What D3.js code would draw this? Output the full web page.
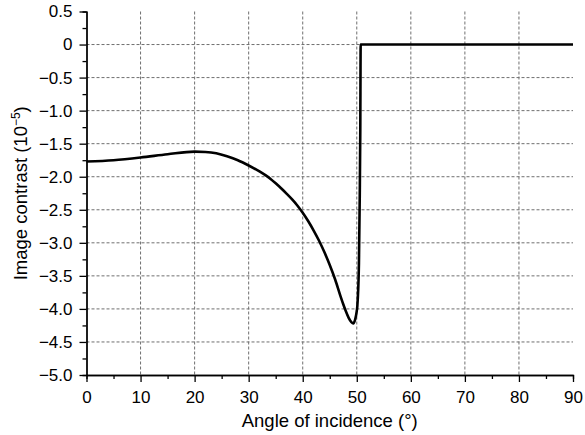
<!DOCTYPE html>
<html lang="en">
<head>
<meta charset="UTF-8">
<title>Image contrast vs angle of incidence</title>
<script src="https://d3js.org/d3.v7.min.js"></script>
<style>
  html, body { margin: 0; padding: 0; background: #fff; }
  svg { display: block; font-family: "Liberation Sans", Arial, sans-serif; }
  .grid line { stroke: #6f6f6f; stroke-width: 1; stroke-dasharray: 3,2; }
  .axis path, .axis line { stroke: #000; stroke-width: 1.3; }
  .axis text { font-size: 17px; fill: #000; }
  .label { font-size: 18.5px; fill: #000; }
  .curve { fill: none; stroke: #000; stroke-width: 2.6; stroke-linejoin: round; }
</style>
</head>
<body>
<svg width="585" height="435"></svg>

<script>
// angle of incidence (deg) and image contrast (1e-5)
const angles = [0, 5, 10, 15, 20, 22, 24, 26, 28, 30, 32, 34, 35, 36, 37, 38, 39, 40, 41, 42, 43, 44, 45, 46, 47, 47.5,
                48, 48.5, 49, 49.35, 49.7, 50.0, 50.1, 50.4, 50.55, 50.65, 50.72, 60, 70, 80, 90];
const contrast = [-1.77, -1.75, -1.71, -1.66, -1.62, -1.625, -1.645, -1.69, -1.75, -1.83, -1.92, -2.03, -2.10, -2.175, -2.255, -2.34, -2.435, -2.545, -2.67, -2.81, -2.965, -3.14, -3.335, -3.555, -3.81, -3.93,
                  -4.04, -4.135, -4.20, -4.22, -4.16, -4.03, -3.96, -3.31, -2.30, -1.29, 0, 0, 0, 0, 0];

const xMajor = d3.range(0, 91, 10);
const xMinor = d3.range(5, 90, 10);
const yMajor = d3.range(0.5, -5.01, -0.5);
const yMinor = d3.range(0.25, -5, -0.5);

const svg = d3.select("svg");
const margin = {left: 86.5, right: 12, top: 11.5, bottom: 60};
const width = 585 - margin.left - margin.right,
      height = 435 - margin.top - margin.bottom;

const x = d3.scaleLinear().domain([0, 90]).range([0, width]);
const y = d3.scaleLinear().domain([-5, 0.5]).range([height, 0]);

const g = svg.append("g").attr("transform", `translate(${margin.left},${margin.top})`);

// grid
const grid = g.append("g").attr("class", "grid");
grid.selectAll(".v").data(xMajor.filter(d => d > 0 && d < 90)).enter().append("line")
  .attr("x1", d => x(d)).attr("x2", d => x(d))
  .attr("y1", 0).attr("y2", height);
grid.selectAll(".h").data(yMajor.filter(d => d < 0.4 && d > -4.9)).enter().append("line")
  .attr("x1", 0).attr("x2", width)
  .attr("y1", d => y(d)).attr("y2", d => y(d));

// axes
const fmtY = d => Math.abs(d) < 1e-9 ? "0" : d3.format(".1f")(d);

g.append("g").attr("class", "axis")
  .attr("transform", `translate(0,${height})`)
  .call(d3.axisBottom(x).tickValues(xMinor).tickSize(4).tickFormat(""));
g.append("g").attr("class", "axis")
  .attr("transform", `translate(0,${height})`)
  .call(d3.axisBottom(x).tickValues(xMajor).tickSize(7).tickPadding(9).tickSizeOuter(0));

g.append("g").attr("class", "axis")
  .call(d3.axisLeft(y).tickValues(yMinor).tickSize(4).tickFormat(""));
g.append("g").attr("class", "axis")
  .call(d3.axisLeft(y).tickValues(yMajor).tickSize(7).tickPadding(7).tickSizeOuter(0).tickFormat(fmtY));

// curve
const pts = angles.map((a, i) => [a, contrast[i]]);
g.append("path")
  .datum(pts)
  .attr("class", "curve")
  .attr("d", d3.line().x(d => x(d[0])).y(d => y(d[1])).curve(d3.curveMonotoneX));

// axis labels
svg.append("text").attr("class", "label")
  .attr("x", margin.left + width / 2).attr("y", 427)
  .attr("text-anchor", "middle")
  .text("Angle of incidence (°)");

const yl = svg.append("text").attr("class", "label")
  .attr("transform", `translate(27,${margin.top + height / 2}) rotate(-90)`)
  .attr("text-anchor", "middle");
yl.append("tspan").text("Image contrast (10");
yl.append("tspan").attr("font-size", "12px").attr("dy", "-7").text("−5");
yl.append("tspan").attr("dy", "7").text(")");
</script>
</body>
</html>
